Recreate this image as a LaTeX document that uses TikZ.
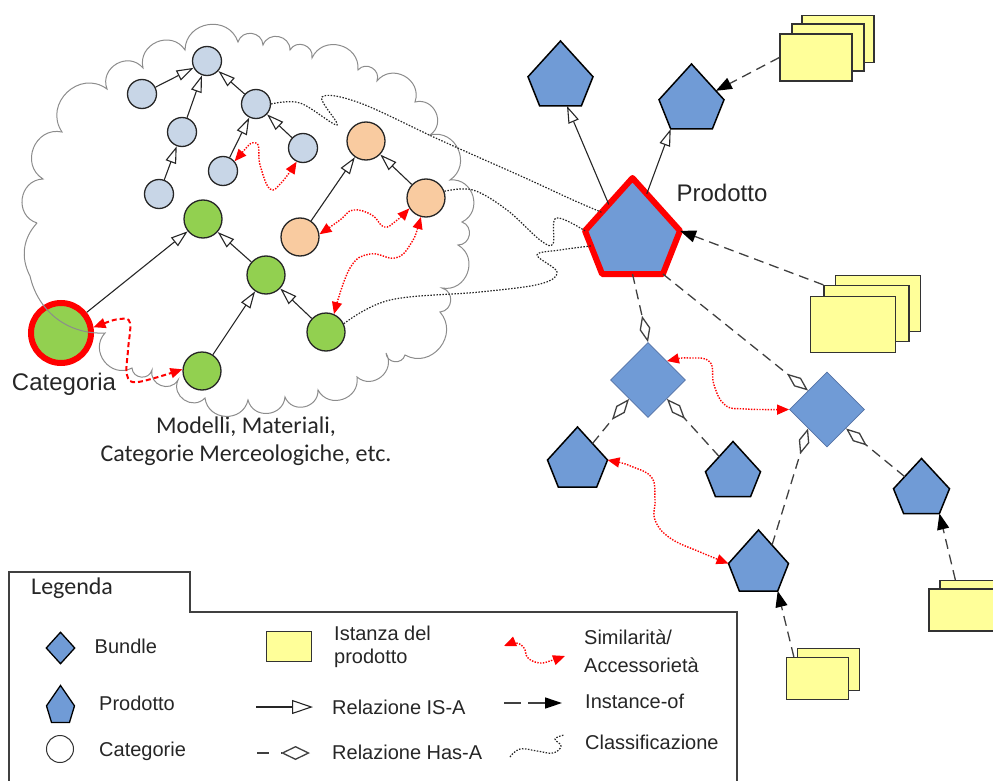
\documentclass[tikz,border=0pt]{standalone}
\usepackage{fontspec}
\setmainfont{Liberation Sans}
\newfontfamily\calfont{Carlito}
\usetikzlibrary{shapes.geometric, arrows.meta, calc}

\definecolor{catblue}{RGB}{200,214,231}
\definecolor{catpeach}{RGB}{249,203,160}
\definecolor{catgreen}{RGB}{146,208,80}
\definecolor{prodblue}{RGB}{112,155,214}
\definecolor{bundleline}{RGB}{85,115,165}
\definecolor{instyellow}{RGB}{255,255,153}

% pentagon with low side corners, anchors borrowed from rectangle
\makeatletter
\pgfdeclareshape{vpentagon}{
  \inheritsavedanchors[from=rectangle]
  \inheritanchorborder[from=rectangle]
  \inheritanchor[from=rectangle]{center}
  \inheritanchor[from=rectangle]{north}
  \inheritanchor[from=rectangle]{south}
  \inheritanchor[from=rectangle]{west}
  \inheritanchor[from=rectangle]{east}
  \inheritanchor[from=rectangle]{north west}
  \inheritanchor[from=rectangle]{north east}
  \inheritanchor[from=rectangle]{south west}
  \inheritanchor[from=rectangle]{south east}
  \anchor{left corner}{\southwest\pgf@xa=\pgf@x\pgf@ya=\pgf@y
    \northeast\pgf@y=.45\pgf@y\advance\pgf@y by .55\pgf@ya\pgf@x=\pgf@xa}
  \anchor{right corner}{\southwest\pgf@ya=\pgf@y
    \northeast\pgf@y=.45\pgf@y\advance\pgf@y by .55\pgf@ya}
  \anchor{bottom left corner}{\northeast\pgf@xb=\pgf@x
    \southwest\pgf@x=.82\pgf@x\advance\pgf@x by .18\pgf@xb}
  \anchor{bottom right corner}{\northeast\pgf@xb=\pgf@x
    \southwest\pgf@x=.18\pgf@x\advance\pgf@x by .82\pgf@xb}
  \backgroundpath{
    \southwest\edef\pvL{\the\pgf@x}\edef\pvB{\the\pgf@y}
    \northeast\edef\pvR{\the\pgf@x}\edef\pvT{\the\pgf@y}
    \pgfmathsetmacro\pvM{.5*\pvL+.5*\pvR}
    \pgfmathsetmacro\pvS{.45*\pvT+.55*\pvB}
    \pgfmathsetmacro\pvBL{.82*\pvL+.18*\pvR}
    \pgfmathsetmacro\pvBR{.18*\pvL+.82*\pvR}
    \pgfpathmoveto{\pgfpoint{\pvM pt}{\pvT}}
    \pgfpathlineto{\pgfpoint{\pvR}{\pvS pt}}
    \pgfpathlineto{\pgfpoint{\pvBR pt}{\pvB}}
    \pgfpathlineto{\pgfpoint{\pvBL pt}{\pvB}}
    \pgfpathlineto{\pgfpoint{\pvL}{\pvS pt}}
    \pgfpathclose
  }
}
\makeatother

\tikzset{
  cat/.style={circle, draw=black!85, line width=1.3pt, inner sep=0},
  catb/.style={cat, fill=catblue, minimum size=29pt},
  catp/.style={cat, fill=catpeach, minimum size=38pt},
  catg/.style={cat, fill=catgreen, minimum size=38pt},
  prod/.style={vpentagon, draw=black, fill=prodblue, line width=1.5pt, inner sep=0, outer sep=0},
  bundle/.style={diamond, draw=bundleline, fill=prodblue, line width=0.8pt, inner sep=0,
    minimum width=75pt, minimum height=75pt},
  inst/.style={rectangle, draw=black!80, fill=instyellow, line width=1.3pt, inner sep=0},
  isa/.style={draw=black!85, line width=1.1pt, -{Triangle[open, fill=white, length=17pt, width=11pt]}},
  hasa/.style={draw=black!75, line width=1.3pt, dash pattern=on 10pt off 6pt,
    -{Diamond[open, fill=white, length=27pt, width=11pt]}},
  instof/.style={draw=black!75, line width=1.3pt, dash pattern=on 10pt off 6pt,
    -{Triangle[length=16pt, width=12pt, color=black]}},
  simil/.style={red, line width=1.4pt, dash pattern=on 1.4pt off 1.4pt,
    {Triangle[length=12pt, width=10pt]}-{Triangle[length=12pt, width=10pt]}},
  classif/.style={black!85, line width=1.2pt, dash pattern=on 1.5pt off 1.5pt},
  cloudline/.style={draw=black!45, line width=1pt},
  puff/.style={bend left=80, looseness=1.4},
  lbl/.style={font=\fontsize{24}{28}\selectfont, text=black!85},
  leg/.style={font=\fontsize{20}{23}\selectfont, text=black!85, anchor=west, inner sep=0, align=left},
}

\begin{document}
\begin{tikzpicture}[x=1pt, y=-1pt]
\useasboundingbox (0,0) rectangle (993,781);
\clip (0,0) rectangle (993,781);

% categories
\node[catb] (b1) at (207,61) {};
\node[catb] (b2) at (142,94) {};
\node[catb] (b3) at (182,132) {};
\node[catb] (b4) at (159,194) {};
\node[catb] (b5) at (256,104) {};
\node[catb] (b6) at (223,171) {};
\node[catb] (b7) at (303,148) {};
\node[catp] (o1) at (366,141) {};
\node[catp] (o2) at (426,198) {};
\node[catp] (o3) at (300,237) {};
\node[catg] (g1) at (203,219) {};
\node[catg] (g2) at (266,275) {};
\node[catg] (g3) at (202,371) {};
\node[catg] (g4) at (326,332) {};
\node[catg, draw=red, line width=6pt, minimum size=60pt] (cat) at (61,333) {};
\node[lbl] at (64,384) {Categoria};
\node[lbl, font=\calfont\fontsize{24}{28}\selectfont, align=center] at (246,441)
  {Modelli, Materiali,\\Categorie Merceologiche, etc.};

\draw[cloudline] (37,223) to[puff] (43,179) to[puff] (62,132) to[puff] (107,89)
  to[puff] (143,68) to[puff] (185,50) to[puff] (238,42) to[puff] (263,45)
  to[puff] (290,50) to[puff] (312,58) to[puff] (358,70) to[puff] (377,81)
  to[puff] (415,102) to[puff] (430,135) to[puff] (450,180) to[puff] (462,222)
  to[puff] (458,245) to[puff] (442,288) to[puff] (440,312) to[puff] (405,355)
  to[puff] (386,353) to[puff] (357,377) to[puff] (318,390) to[puff] (285,397)
  to[puff] (248,400) to[puff] (205,398) to[puff] (178,380) to[puff] (152,370)
  to[puff] (132,368) to[puff] (105,333) to[bend left=40] (30,276)
  to[bend left=35] (37,223);

\draw[isa] (b2) -- (b1);
\draw[isa] (b3) -- (b1);
\draw[isa] (b4) -- (b3);
\draw[isa] (b5) -- (b1);
\draw[isa] (b6) -- (b5);
\draw[isa] (b7) -- (b5);
\draw[isa] (o3) -- (o1);
\draw[isa] (o2) -- (o1);
\draw[isa] (cat) -- (g1);
\draw[isa] (g2) -- (g1);
\draw[isa] (g3) -- (g2);
\draw[isa] (g4) -- (g2);

% products and bundles
\node[prod, draw=red, line width=6pt, line join=round, minimum width=95pt, minimum height=96pt] (P) at (632.5,226) {};
\node[lbl] at (722,193) {Prodotto};
\node[prod, minimum width=65pt, minimum height=65pt] (p1) at (560.5,73.5) {};
\node[prod, minimum width=65pt, minimum height=65pt] (p2) at (691.5,96.5) {};
\node[prod, minimum width=60pt, minimum height=60pt] (p3) at (577.5,457) {};
\node[prod, minimum width=55pt, minimum height=55pt] (p4) at (733,469) {};
\node[prod, minimum width=60pt, minimum height=61pt] (p5) at (758.5,560.5) {};
\node[prod, minimum width=56pt, minimum height=55pt] (p6) at (921.5,486) {};
\node[bundle] (d1) at (648,380) {};
\node[bundle] (d2) at (827,409.5) {};

% instances
\node[inst, minimum width=72pt, minimum height=47pt] (i1c) at (838,39) {};
\node[inst, minimum width=72pt, minimum height=47pt] (i1b) at (828,47.5) {};
\node[inst, minimum width=72pt, minimum height=47pt] (i1) at (816,57.5) {};
\node[inst, minimum width=85pt, minimum height=56pt] (i2c) at (878,303.5) {};
\node[inst, minimum width=85pt, minimum height=56pt] (i2b) at (866.5,313.5) {};
\node[inst, minimum width=85pt, minimum height=56pt] (i2) at (853,324.5) {};
\node[inst, minimum width=68pt, minimum height=42pt] (i3b) at (974,601.5) {};
\node[inst, minimum width=68pt, minimum height=42pt] (i3) at (963,610) {};
\node[inst, minimum width=62pt, minimum height=42pt] (i4b) at (828.5,669.5) {};
\node[inst, minimum width=62pt, minimum height=42pt] (i4) at (817.5,678.5) {};

\draw[isa] ($(P.north)!.5!(P.left corner)$) -- ($(p1.south west)!.6!(p1.south east)$);
\draw[isa] ($(P.north)!.3!(P.right corner)$) -- (p2.bottom left corner);

\draw[instof] (i1.west) -- ($(p2.north)!.75!(p2.right corner)$);
\draw[instof] (i2b.north west) -- (P.right corner);
\draw[instof] ([xshift=16pt]i3b.north west) -- (p6.bottom right corner);
\draw[instof] ([xshift=8pt]i4.north west) -- (p5.bottom right corner);

\draw[hasa] (P.south) -- (d1.north);
\draw[hasa] (P.bottom right corner) -- (d2.north west);
\draw[hasa] ($(p3.north)!.5!(p3.right corner)$) -- (d1.south west);
\draw[hasa] ($(p4.north)!.5!(p4.left corner)$) -- (d1.south east);
\draw[hasa] ($(p5.north)!.45!(p5.right corner)$) -- (d2.south west);
\draw[hasa] ($(p6.north)!.6!(p6.left corner)$) -- (d2.south east);

% similarity
\draw[simil] plot[smooth, tension=.7] coordinates {(b6.40) (256,143) (260,165) (270,189) (282,182) (b7.245)};
\draw[simil] plot[smooth, tension=.7] coordinates {(o3.8) (340,220) (353,210) (372,215) (384,227) (396,221) (o2.212)};
\draw[simil] plot[smooth, tension=.7] coordinates {(o2.255) (410,245) (395,258) (370,254) (350,268) (g4.66)};
\draw[simil, line width=2pt, dash pattern=on 5pt off 3pt] plot[smooth, tension=.6] coordinates
  {(cat.10) (120,319) (130,323) (128,350) (127,375) (138,382) (g3.175)};
\draw[simil] plot[smooth, tension=.7] coordinates {(d1.north east) (690,358) (710,362) (714,385) (725,405) (745,409) (d2.west)};
\draw[simil] plot[smooth, tension=.7] coordinates {(p3.right corner) (633,467) (652,478) (655,500) (655,520) (670,538) (700,552) (p5.left corner)};

% classification
\draw[classif] plot[smooth, tension=.6] coordinates {(b5.east) (300,103) (337,125) (322,97) (360,103) (440,140) (523,177) (573,200) ($(P.north)!.65!(P.left corner)$)};
\draw[classif] plot[smooth, tension=.6] coordinates {(o2.20) (473,190) (507,210) (540,240) (553,244) (556,218) (P.left corner)};
\draw[classif] plot[smooth, tension=.6] coordinates {(g4.25) (390,300) (480,292) (540,284) (557,272) (537,255) (560,250) ($(P.left corner)!.35!(P.bottom left corner)$)};

% legend
\draw[black!75, line width=1.2pt] (9,790) -- (9,572) -- (190,572) -- (190,612) -- (737,612) -- (737,790);
\node[anchor=west, inner sep=0, text=black!85, font=\calfont\fontsize{24}{28}\selectfont] at (31,588) {Legenda};

\node[bundle, draw=black, line width=1.3pt, minimum width=29pt, minimum height=32pt] (lgbundle) at (60.5,648) {};
\node[leg] at (94.5,646) {Bundle};
\node[prod, line width=1.3pt, minimum width=28pt, minimum height=37pt] (lgprod) at (60.5,704) {};
\node[leg] at (99,703) {Prodotto};
\node[circle, draw=black!80, line width=1pt, minimum size=27pt, inner sep=0] (lgcat) at (60,749) {};
\node[leg] at (99,751) {Categorie};

\node[inst, minimum width=45pt, minimum height=30pt] (lginst) at (289,646.5) {};
\node[leg] at (334,647) {Istanza del\\prodotto};
\coordinate (lgisaA) at (256,707);
\coordinate (lgisaB) at (313,707);
\draw[isa, -{Triangle[open, fill=white, length=21pt, width=14pt]}] (lgisaA) -- (lgisaB);
\node[leg] at (332,707) {Relazione IS-A};
\coordinate (lghasA) at (257,753);
\coordinate (lghasB) at (310,753);
\draw[hasa, dash pattern=on 12pt off 12pt, -{Diamond[open, fill=white, length=29pt, width=14pt]}] (lghasA) -- (lghasB);
\node[leg] at (332,752) {Relazione Has-A};

\draw[simil] plot[smooth, tension=.7] coordinates {(504,646) (516,643) (524,648) (528,658) (540,663) (553,660) (565,656)};
\node[leg, font=\fontsize{20}{28}\selectfont] at (584,651) {Similarità/\\Accessorietà};
\coordinate (lginsA) at (504,703);
\coordinate (lginsB) at (562,703);
\draw[instof, dash pattern=on 17pt off 7pt, -{Triangle[length=17pt, width=11pt, color=black]}] (lginsA) -- (lginsB);
\node[leg] at (585,701) {Instance-of};
\draw[classif] plot[smooth, tension=.7] coordinates {(510,757) (520,749) (537,751) (553,753) (561,746) (555,739) (564,735)};
\node[leg] at (585,742) {Classificazione};
\end{tikzpicture}
\end{document}
